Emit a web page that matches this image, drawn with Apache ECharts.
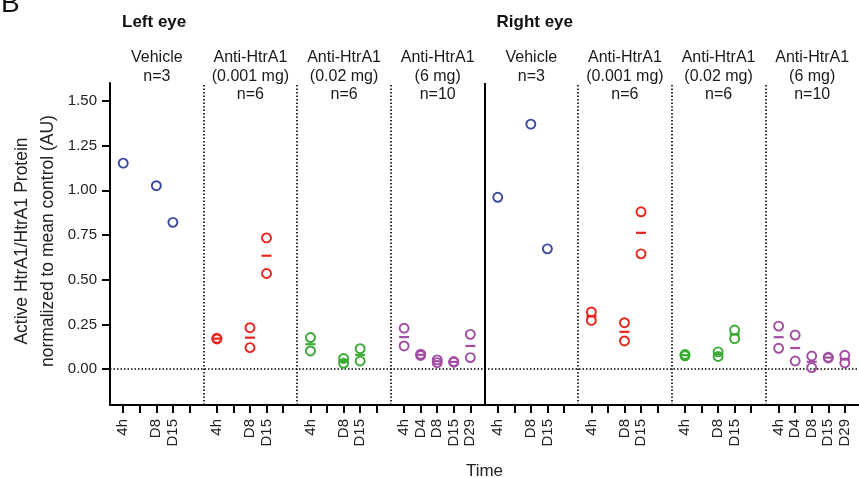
<!DOCTYPE html>
<html>
<head>
<meta charset="utf-8">
<script src="https://cdn.jsdelivr.net/npm/echarts@6/dist/echarts.min.js"></script>
<style>
  html, body { margin: 0; padding: 0; background: #fff; }
  #chart { width: 859px; height: 478px; }
</style>
</head>
<body>
<div id="chart"></div>
<script>
// ---------- data ----------
const timePoints = ['4h', 'D4', 'D8', 'D15', 'D29'];
const eyeTitles = ['Left eye', 'Right eye'];
const groupTitles = ['Vehicle\nn=3', 'Anti-HtrA1\n(0.001 mg)\nn=6', 'Anti-HtrA1\n(0.02 mg)\nn=6', 'Anti-HtrA1\n(6 mg)\nn=10'];
const groupColors = ['#3b4a9e', '#e8261c', '#3aaa35', '#a14ea2'];
const yTicks = [0, 0.25, 0.5, 0.75, 1.0, 1.25, 1.5];

// values per time point (4h, D4, D8, D15, D29); [] = not sampled
const leftVehicle  = [[1.152], [], [1.026], [0.821], []];
const leftLow      = [[0.173, 0.169], [], [0.232, 0.121], [0.734, 0.535], []];
const leftMid      = [[0.177, 0.102], [], [0.060, 0.033], [0.115, 0.046], []];
const leftHigh     = [[0.229, 0.130], [0.084, 0.077], [0.052, 0.037], [0.043, 0.039], [0.195, 0.065]];
const rightVehicle = [[0.961], [], [1.370], [0.673], []];
const rightLow     = [[0.320, 0.273], [], [0.260, 0.158], [0.880, 0.645], []];
const rightMid     = [[0.082, 0.075], [], [0.097, 0.071], [0.219, 0.171], []];
const rightHigh    = [[0.241, 0.117], [0.191, 0.046], [0.074, 0.009], [0.067, 0.063], [0.078, 0.035]];

const panels = [leftVehicle, leftLow, leftMid, leftHigh, rightVehicle, rightLow, rightMid, rightHigh];

// ---------- layout ----------
const PW = 5.657;      // panel width in tick units
const OFF = 0.8;       // first tick offset inside a panel
const XMAX = 8 * PW;
const FONT = '"Liberation Sans", Arial, Helvetica, sans-serif';
const posOf = (p, k) => p * PW + OFF + k;

const tickVals = [];
const labelVals = [];
panels.forEach((pan, p) => {
  timePoints.forEach((t, k) => {
    tickVals.push(posOf(p, k));
    if (pan[k].length) labelVals.push(posOf(p, k));
  });
});

const series = [];
panels.forEach((pan, p) => {
  const color = groupColors[p % 4];
  const pts = [];
  const means = [];
  pan.forEach((vals, k) => {
    vals.forEach(v => pts.push([posOf(p, k), v]));
    if (vals.length > 1) {
      means.push([posOf(p, k), vals.reduce((a, b) => a + b, 0) / vals.length]);
    }
  });
  series.push({
    type: 'scatter', data: pts, symbol: 'circle', symbolSize: 9, z: 5,
    itemStyle: { color: 'rgba(0,0,0,0)', borderColor: color, borderWidth: 1.9, opacity: 1 },
    emphasis: { disabled: true }, silent: true
  });
  if (means.length) {
    series.push({
      type: 'scatter', data: means, symbol: 'rect', symbolSize: [10, 2.2], z: 6,
      itemStyle: { color: color, opacity: 1 }, emphasis: { disabled: true }, silent: true
    });
  }
});

// dividers + zero line
const mlData = [];
for (let p = 1; p < 8; p++) {
  mlData.push({
    xAxis: p * PW,
    lineStyle: p === 4 ? { type: 'solid', width: 2, color: '#000' } : { type: [1.5, 2], width: 1.6, color: '#000' }
  });
}
mlData.push({ yAxis: 0, lineStyle: { type: [1.5, 2], width: 1.6, color: '#000' } });
series.push({
  type: 'scatter', data: [], z: 2,
  markLine: { silent: true, symbol: 'none', label: { show: false }, animation: false, data: mlData }
});

const chart = echarts.init(document.getElementById('chart'), null, { renderer: 'canvas' });
const gridLeft = 110, gridTop = 83, gridH = 322, gridW = 754.4;

chart.setOption({
  animation: false,
  backgroundColor: '#fff',
  textStyle: { fontFamily: FONT },
  grid: { left: gridLeft, top: gridTop, width: gridW, height: gridH, containLabel: false },
  xAxis: {
    type: 'value', min: 0, max: XMAX,
    axisLine: { show: true, onZero: false, lineStyle: { color: '#000', width: 2 } },
    axisTick: { show: true, customValues: tickVals, length: 8, lineStyle: { color: '#000', width: 2 } },
    axisLabel: {
      customValues: labelVals, rotate: 90, margin: 14, fontSize: 15, color: '#222', fontFamily: FONT,
      formatter: v => {
        const p = Math.floor(v / PW);
        const k = Math.round(v - p * PW - OFF);
        return timePoints[k];
      }
    },
    splitLine: { show: false }
  },
  yAxis: {
    type: 'value', min: -0.2, max: 1.6,
    axisLine: { show: true, lineStyle: { color: '#000', width: 2 } },
    axisTick: { show: true, customValues: yTicks, length: 8, lineStyle: { color: '#000', width: 2 } },
    axisLabel: { customValues: yTicks, margin: 13, fontSize: 15, color: '#222', fontFamily: FONT, formatter: v => v.toFixed(2) },
    splitLine: { show: false }
  },
  series: series
});

// ---------- text annotations ----------
const graphics = [];
for (let p = 0; p < 8; p++) {
  const cx = chart.convertToPixel({ gridIndex: 0 }, [p * PW + PW / 2, 0])[0];
  graphics.push({
    type: 'text', x: cx, y: 48.5, silent: true,
    style: { text: groupTitles[p % 4], font: '16px ' + FONT, fill: '#1a1a1a', align: 'center', verticalAlign: 'top', lineHeight: 18.5 }
  });
}
eyeTitles.forEach((t, e) => {
  const lx = chart.convertToPixel({ gridIndex: 0 }, [e * 4 * PW, 0])[0];
  graphics.push({
    type: 'text', x: lx + 12, y: 22, silent: true,
    style: { text: t, font: 'bold 17px ' + FONT, fill: '#111', align: 'left', verticalAlign: 'middle' }
  });
});
graphics.push({
  type: 'text', x: 35, y: 241, rotation: Math.PI / 2, silent: true,
  style: { text: 'Active HtrA1/HtrA1 Protein\nnormalized to mean control (AU)', font: '17.5px ' + FONT, fill: '#222', align: 'center', verticalAlign: 'middle', lineHeight: 26 }
});
graphics.push({
  type: 'text', x: chart.convertToPixel({ gridIndex: 0 }, [XMAX / 2, 0])[0], y: 471, silent: true,
  style: { text: 'Time', font: '17px ' + FONT, fill: '#222', align: 'center', verticalAlign: 'middle' }
});
graphics.push({
  type: 'text', x: 1, y: 18, silent: true,
  style: { text: 'B', font: '28px ' + FONT, fill: '#111', align: 'left', verticalAlign: 'bottom' }
});
chart.setOption({ graphic: graphics });
</script>
</body>
</html>
